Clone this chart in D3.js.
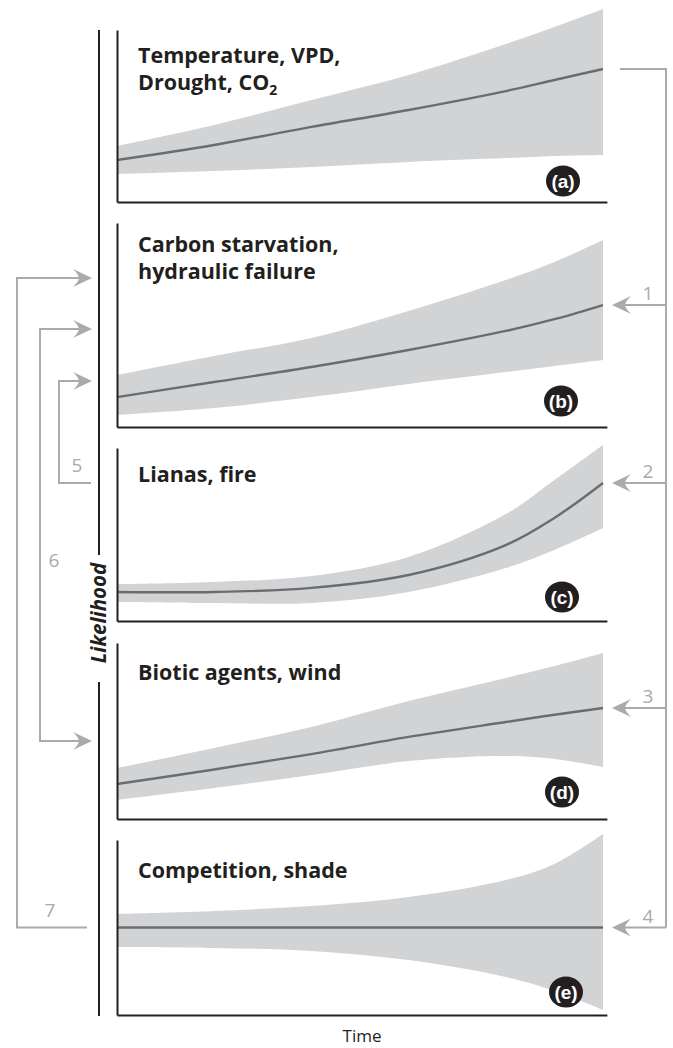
<!DOCTYPE html>
<html>
<head>
<meta charset="utf-8">
<script src="https://cdn.jsdelivr.net/npm/d3@7"></script>
<style>
  body { margin: 0; background: #fff; }
  svg { display: block; }
</style>
</head>
<body>
<div id="chart"></div>
<script>
// time steps (arbitrary units) sampled along each panel
const times = [0, 2, 4, 6, 8, 9, 10];

// panel titles and tags
const panelTags = ["(a)", "(b)", "(c)", "(d)", "(e)"];
const panelTitles = [
  ["Temperature, VPD,", "Drought, CO2"],
  ["Carbon starvation,", "hydraulic failure"],
  ["Lianas, fire"],
  ["Biotic agents, wind"],
  ["Competition, shade"]
];

// likelihood: upper envelope, median, lower envelope
const upperA  = [32, 44, 58.3, 72.6, 90.3, 100, 110.3];
const medianA = [24, 32.6, 42.9, 52.6, 63.4, 69.7, 76];
const lowerA  = [16, 17.7, 20, 22.9, 25.1, 26.3, 26.9];

const upperB  = [29.7, 40.6, 50.9, 66.3, 84, 94.3, 106.9];
const medianB = [17.1, 25.7, 34.3, 44, 54.9, 61.6, 69.7];
const lowerB  = [6.9, 10.9, 17.1, 24.6, 31.4, 34.9, 38.3];

const upperC  = [21.1, 22.3, 25.7, 36.6, 61.1, 80.6, 100.6];
const medianC = [16.6, 16.6, 18.9, 26.3, 43.4, 58.9, 78.9];
const lowerC  = [10.9, 10.3, 10.3, 16.6, 30.3, 40.6, 53.1];

const upperD  = [29.1, 40.6, 52.6, 67.4, 80.6, 87.4, 94.9];
const medianD = [20, 28.3, 37.1, 46.9, 55.4, 59.6, 63.4];
const lowerD  = [10.9, 17.7, 25.1, 33.1, 36, 34.3, 29.7];

const upperE  = [57.7, 59.4, 62.3, 67.4, 77.1, 86.3, 103.4];
const medianE = [50, 50, 50, 50, 50, 50, 50];
const lowerE  = [38.9, 38.3, 36.6, 31.4, 21.7, 13.7, 2.9];

// connector numbers
const rightLinkLabels = ["1", "2", "3", "4"];
const leftLinkLabels = ["5", "6", "7"];

const width = 673;
const height = 1048;

const grey = "#a9aaac";
const bandFill = "#d2d3d5";
const lineColor = "#6b6c6f";
const ink = "#231f20";

// panel layout (pixel boxes)
const panels = [
  {top: 30,  bottom: 202, titleY: 63,  tagX: 563, tagY: 181},
  {top: 223, bottom: 427, titleY: 252, tagX: 561, tagY: 401},
  {top: 448, bottom: 621, titleY: 482, tagX: 562, tagY: 597},
  {top: 643, bottom: 819, titleY: 680, tagX: 562, tagY: 792},
  {top: 840, bottom: 1015, titleY: 878, tagX: 566, tagY: 992}
];
const series = [
  [upperA, medianA, lowerA],
  [upperB, medianB, lowerB],
  [upperC, medianC, lowerC],
  [upperD, medianD, lowerD],
  [upperE, medianE, lowerE]
];

const svg = d3.select("#chart").append("svg")
    .attr("width", width)
    .attr("height", height);

const x = d3.scaleLinear().domain([0, 10]).range([117, 603]);
const xAxisScale = d3.scaleLinear().domain([0, 10.08]).range([x(0), x(10.08)]);
const unit = 1.75; // pixels per likelihood unit
const curve = d3.curveCatmullRom.alpha(0.5);

const medianEnds = [];

panels.forEach(function(p, i) {
  const y = d3.scaleLinear().domain([0, 100]).range([p.bottom, p.bottom - 100 * unit]);
  const [up, mid, lo] = series[i];
  const rows = times.map((t, k) => ({t: t, up: up[k], mid: mid[k], lo: lo[k]}));

  const g = svg.append("g").attr("class", "panel");

  // uncertainty band
  g.append("path")
    .datum(rows)
    .attr("fill", bandFill)
    .attr("d", d3.area()
      .curve(curve)
      .x(d => x(d.t))
      .y0(d => y(d.lo))
      .y1(d => y(d.up)));

  // median trend
  g.append("path")
    .datum(rows)
    .attr("fill", "none")
    .attr("stroke", lineColor)
    .attr("stroke-width", 2.4)
    .attr("d", d3.line()
      .curve(curve)
      .x(d => x(d.t))
      .y(d => y(d.mid)));

  medianEnds.push(y(mid[mid.length - 1]));

  // axes, no ticks
  const yAxisScale = d3.scaleLinear().domain([0, (p.bottom - p.top) / unit]).range([p.bottom, p.top]);
  g.append("g")
    .attr("transform", "translate(" + x(0) + ",0)")
    .call(d3.axisLeft(yAxisScale).tickValues([]).tickSizeOuter(0))
    .call(a => a.select(".domain").attr("stroke", ink).attr("stroke-width", 2));
  g.append("g")
    .attr("transform", "translate(0," + p.bottom + ")")
    .call(d3.axisBottom(xAxisScale).tickValues([]).tickSizeOuter(0))
    .call(a => a.select(".domain").attr("stroke", ink).attr("stroke-width", 2));

  // title
  const title = g.append("text")
    .attr("x", 138)
    .attr("y", p.titleY)
    .attr("font-family", "'Open Sans', sans-serif")
    .attr("font-weight", 700)
    .attr("font-size", 21.5)
    .attr("fill", ink);
  panelTitles[i].forEach(function(line, j) {
    const dy = j === 0 ? 0 : 26.5;
    if (line.endsWith("CO2")) {
      title.append("tspan").attr("x", 138).attr("dy", dy).text(line.slice(0, -1));
      title.append("tspan").attr("font-size", 14).attr("dy", 5).text("2");
    } else {
      title.append("tspan").attr("x", 138).attr("dy", dy).text(line);
    }
  });

  // tag
  g.append("ellipse")
    .attr("cx", p.tagX).attr("cy", p.tagY)
    .attr("rx", 17).attr("ry", 15.5)
    .attr("fill", ink);
  g.append("text")
    .attr("x", p.tagX).attr("y", p.tagY + 6.5)
    .attr("text-anchor", "middle")
    .attr("font-family", "'Liberation Sans', Arial, sans-serif")
    .attr("font-weight", 700)
    .attr("font-size", 19)
    .attr("fill", "#fff")
    .text(panelTags[i]);
});

// Likelihood axis with gap for its label
const likeX = 99;
svg.append("line").attr("x1", likeX).attr("x2", likeX).attr("y1", 30).attr("y2", 555)
  .attr("stroke", ink).attr("stroke-width", 2);
svg.append("line").attr("x1", likeX).attr("x2", likeX).attr("y1", 682).attr("y2", 1016)
  .attr("stroke", ink).attr("stroke-width", 2);
svg.append("text")
  .attr("transform", "translate(106,613) rotate(-90)")
  .attr("text-anchor", "middle")
  .attr("font-family", "'Open Sans', sans-serif")
  .attr("font-weight", 700)
  .attr("font-style", "italic")
  .attr("font-size", 20.5)
  .attr("fill", ink)
  .text("Likelihood");

// Time label
svg.append("text")
  .attr("x", 362).attr("y", 1042)
  .attr("text-anchor", "middle")
  .attr("font-family", "'Open Sans', sans-serif")
  .attr("font-size", 17)
  .attr("fill", ink)
  .text("Time");

// connectors
function arrowHead(tipX, tipY, dir) {
  const p = d3.path();
  p.moveTo(tipX, tipY);
  p.lineTo(tipX - dir * 19, tipY - 9);
  p.quadraticCurveTo(tipX - dir * 13, tipY - 3, tipX - dir * 13, tipY);
  p.quadraticCurveTo(tipX - dir * 13, tipY + 3, tipX - dir * 19, tipY + 9);
  p.closePath();
  svg.append("path").attr("d", p.toString()).attr("fill", grey);
}
function connector(points) {
  svg.append("path")
    .attr("d", d3.line()(points))
    .attr("fill", "none")
    .attr("stroke", grey)
    .attr("stroke-width", 2);
}
function linkLabel(tx, ty, s) {
  svg.append("text")
    .attr("x", tx).attr("y", ty)
    .attr("text-anchor", "middle")
    .attr("font-family", "'Open Sans', sans-serif")
    .attr("font-weight", 400)
    .attr("font-size", 19)
    .attr("fill", grey)
    .text(s);
}

// right side: drivers in (a) feed panels (b)-(e)
const bracketX = 666;
const rightTip = 612;
connector([[620, medianEnds[0]], [bracketX, medianEnds[0]], [bracketX, medianEnds[4]]]);
medianEnds.slice(1).forEach(function(yy, k) {
  connector([[bracketX, yy], [rightTip + 13, yy]]);
  arrowHead(rightTip, yy, -1);
  linkLabel(648, yy - 5, rightLinkLabels[k]);
});

// left side feedbacks into the likelihood axis
const leftTip = 92;
const feedY = [278, 329, 381, 741];
// 5: lianas/fire -> mortality
connector([[91, medianEnds[2]], [59, medianEnds[2]], [59, feedY[2]], [leftTip - 13, feedY[2]]]);
arrowHead(leftTip, feedY[2], 1);
linkLabel(77, 472, leftLinkLabels[0]);
// 6: two-way link
connector([[leftTip - 13, feedY[1]], [40, feedY[1]], [40, feedY[3]], [leftTip - 13, feedY[3]]]);
arrowHead(leftTip, feedY[1], 1);
arrowHead(leftTip, feedY[3], 1);
linkLabel(54, 567, leftLinkLabels[1]);
// 7: competition/shade -> mortality
connector([[87, medianEnds[4]], [17, medianEnds[4]], [17, feedY[0]], [leftTip - 13, feedY[0]]]);
arrowHead(leftTip, feedY[0], 1);
linkLabel(50, 917, leftLinkLabels[2]);
</script>
</body>
</html>
